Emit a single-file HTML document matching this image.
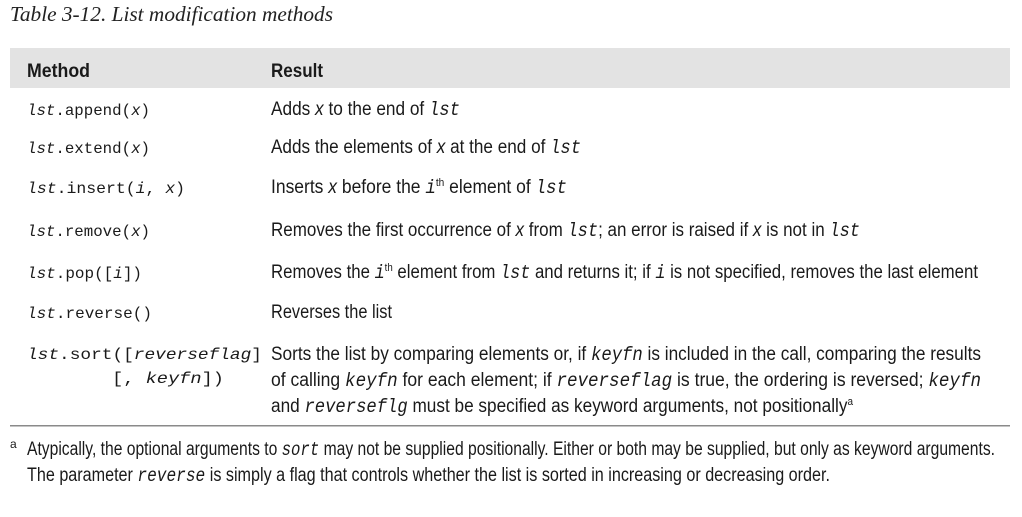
<!DOCTYPE html>
<html><head><meta charset="utf-8"><style>
html,body{margin:0;padding:0;background:#fff;width:1022px;height:517px;overflow:hidden}
svg{display:block}
.s{font-family:"Liberation Sans Narrow","Liberation Sans",sans-serif;font-size:19px;fill:#1a1a1a}
.m{font-family:"Liberation Mono","DejaVu Sans Mono",monospace;font-size:16px;fill:#1a1a1a}
.i{font-style:italic}
.mi{font-family:"Liberation Mono","DejaVu Sans Mono",monospace;font-style:italic}
.b{font-weight:bold}
.t{font-family:"Liberation Serif",serif;font-style:italic;font-size:21px;fill:#222}
.sup{font-size:11px}
</style></head><body>
<svg width="1022" height="517" xmlns="http://www.w3.org/2000/svg">
<text class="t" x="10" y="21" textLength="323" lengthAdjust="spacingAndGlyphs">Table 3-12. List modification methods</text>
<rect x="10" y="48" width="1000" height="40" fill="#e3e3e3"/>
<text class="s b" x="27" y="77" textLength="63" lengthAdjust="spacingAndGlyphs">Method</text>
<text class="s b" x="271" y="77" textLength="52" lengthAdjust="spacingAndGlyphs">Result</text>

<text class="m" x="27" y="115" textLength="123" lengthAdjust="spacingAndGlyphs"><tspan class="i">lst</tspan>.append(<tspan class="i">x</tspan>)</text>
<text class="s" x="271" y="115" textLength="189" lengthAdjust="spacingAndGlyphs">Adds <tspan class="i">x</tspan> to the end of <tspan class="mi">lst</tspan></text>

<text class="m" x="27" y="153" textLength="123" lengthAdjust="spacingAndGlyphs"><tspan class="i">lst</tspan>.extend(<tspan class="i">x</tspan>)</text>
<text class="s" x="271" y="153" textLength="310" lengthAdjust="spacingAndGlyphs">Adds the elements of <tspan class="i">x</tspan> at the end of <tspan class="mi">lst</tspan></text>

<text class="m" x="27" y="193" textLength="158" lengthAdjust="spacingAndGlyphs"><tspan class="i">lst</tspan>.insert(<tspan class="i">i</tspan>, <tspan class="i">x</tspan>)</text>
<text class="s" x="271" y="193" textLength="296" lengthAdjust="spacingAndGlyphs">Inserts <tspan class="i">x</tspan> before the <tspan class="mi">i</tspan><tspan class="sup" dy="-7">th</tspan><tspan dy="7"> element of </tspan><tspan class="mi">lst</tspan></text>

<text class="m" x="27" y="236" textLength="123" lengthAdjust="spacingAndGlyphs"><tspan class="i">lst</tspan>.remove(<tspan class="i">x</tspan>)</text>
<text class="s" x="271" y="236" textLength="589" lengthAdjust="spacingAndGlyphs">Removes the first occurrence of <tspan class="i">x</tspan> from <tspan class="mi">lst</tspan>; an error is raised if <tspan class="i">x</tspan> is not in <tspan class="mi">lst</tspan></text>

<text class="m" x="27" y="278" textLength="115" lengthAdjust="spacingAndGlyphs"><tspan class="i">lst</tspan>.pop([<tspan class="i">i</tspan>])</text>
<text class="s" x="271" y="278" textLength="707" lengthAdjust="spacingAndGlyphs">Removes the <tspan class="mi">i</tspan><tspan class="sup" dy="-7">th</tspan><tspan dy="7"> element from </tspan><tspan class="mi">lst</tspan> and returns it; if <tspan class="mi">i</tspan> is not specified, removes the last element</text>

<text class="m" x="27" y="318" textLength="125" lengthAdjust="spacingAndGlyphs"><tspan class="i">lst</tspan>.reverse()</text>
<text class="s" x="271" y="318" textLength="121" lengthAdjust="spacingAndGlyphs">Reverses the list</text>

<text class="m" x="27" y="359" textLength="235" lengthAdjust="spacingAndGlyphs"><tspan class="i">lst</tspan>.sort([<tspan class="i">reverseflag</tspan>]</text>
<text class="m" x="112" y="383" textLength="112" lengthAdjust="spacingAndGlyphs">[, <tspan class="i">keyfn</tspan>])</text>
<text class="s" x="271" y="360" textLength="710" lengthAdjust="spacingAndGlyphs">Sorts the list by comparing elements or, if <tspan class="mi">keyfn</tspan> is included in the call, comparing the results</text>
<text class="s" x="271" y="386" textLength="710" lengthAdjust="spacingAndGlyphs">of calling <tspan class="mi">keyfn</tspan> for each element; if <tspan class="mi">reverseflag</tspan> is true, the ordering is reversed; <tspan class="mi">keyfn</tspan></text>
<text class="s" x="271" y="412" textLength="582" lengthAdjust="spacingAndGlyphs">and <tspan class="mi">reverseflg</tspan> must be specified as keyword arguments, not positionally<tspan class="sup" dy="-7">a</tspan></text>

<rect x="10" y="425" width="1000" height="1.5" fill="#8a8a8a"/>
<text class="s" x="10" y="448" style="font-size:12px">a</text>
<text class="s" x="27" y="455" textLength="968" lengthAdjust="spacingAndGlyphs">Atypically, the optional arguments to <tspan class="mi">sort</tspan> may not be supplied positionally. Either or both may be supplied, but only as keyword arguments.</text>
<text class="s" x="27" y="481" textLength="803" lengthAdjust="spacingAndGlyphs">The parameter <tspan class="mi">reverse</tspan> is simply a flag that controls whether the list is sorted in increasing or decreasing order.</text>
</svg>
</body></html>
